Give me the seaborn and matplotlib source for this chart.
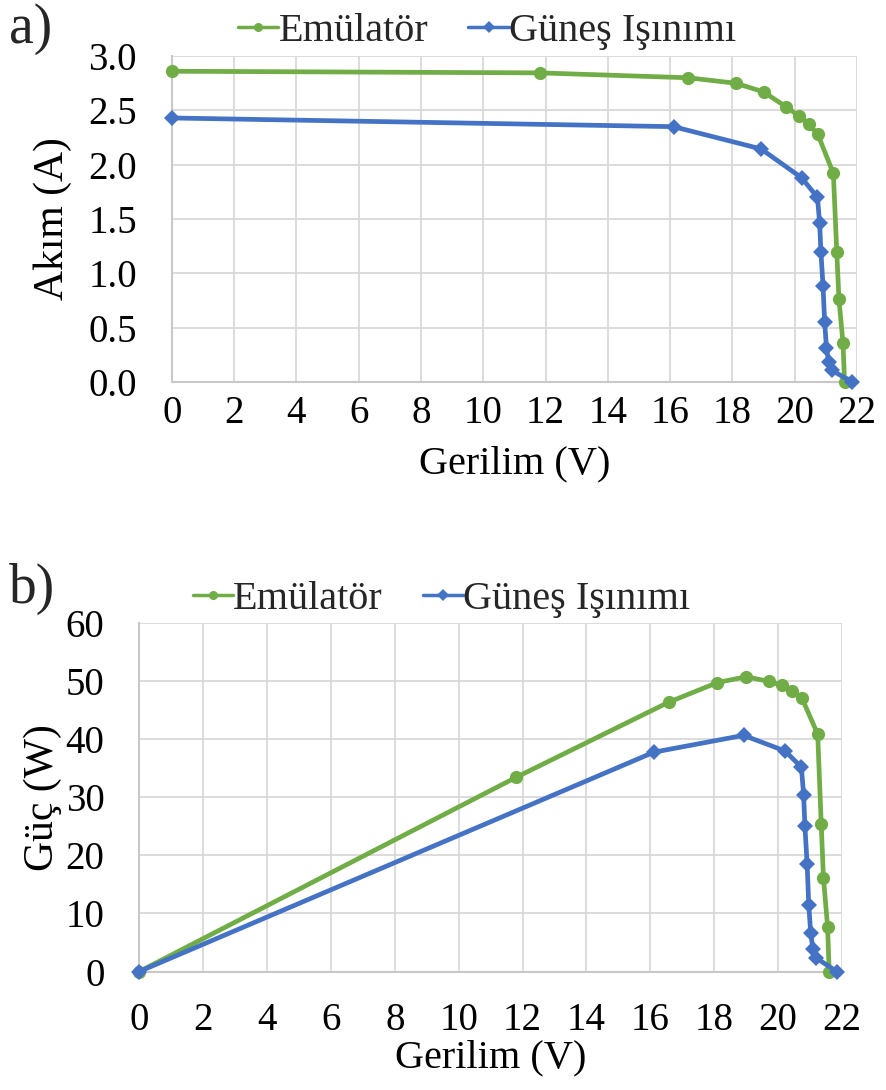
import matplotlib
matplotlib.use("Agg")
import matplotlib.pyplot as plt
import seaborn as sns
import pandas as pd

# ---- data ----
series_names = ["Emülatör", "Güneş Işınımı"]

emu_v = [0.0, 11.81, 16.57, 18.10, 19.00, 19.71, 20.13, 20.45, 20.74, 21.24, 21.35, 21.42, 21.55, 21.60]
emu_i = [2.86, 2.845, 2.80, 2.75, 2.67, 2.535, 2.45, 2.37, 2.28, 1.92, 1.197, 0.76, 0.356, 0.0]
emu_p = [0.0, 33.5, 46.4, 49.8, 50.8, 50.0, 49.3, 48.4, 47.2, 40.9, 25.5, 16.2, 7.7, 0.0]

sun_v = [0.0, 16.11, 18.92, 20.22, 20.73, 20.80, 20.84, 20.91, 20.96, 21.02, 21.09, 21.20, 21.84]
sun_i = [2.43, 2.35, 2.145, 1.88, 1.70, 1.46, 1.20, 0.88, 0.55, 0.316, 0.187, 0.107, 0.0]
sun_p = [0.0, 37.8, 40.7, 38.0, 35.2, 30.4, 25.0, 18.5, 11.5, 6.7, 3.9, 2.3, 0.0]

x_ticks = list(range(0, 23, 2))
i_ticks = [0.0, 0.5, 1.0, 1.5, 2.0, 2.5, 3.0]
p_ticks = [0, 10, 20, 30, 40, 50, 60]

GREEN = "#70AD47"
BLUE = "#4472C4"
GRID = "#D9D9D9"

sns.set_theme(style="white")
plt.rcParams["font.family"] = ["Liberation Serif", "DejaVu Serif"]

fig = plt.figure(figsize=(8.86, 10.9), dpi=100)
ax1 = fig.add_axes([0.1938, 0.6495, 0.7735, 0.2991])
ax2 = fig.add_axes([0.1572, 0.1087, 0.7931, 0.3194])

df_emu = pd.DataFrame({"V": emu_v, "I": emu_i, "P": emu_p})
df_sun = pd.DataFrame({"V": sun_v, "I": sun_i, "P": sun_p})


def draw(ax, ycol, yticks, ylim, ylabel, fmt, ypad, xpad, xlabpad, ylabpad):
    sns.lineplot(data=df_emu, x="V", y=ycol, ax=ax, color=GREEN, marker="o",
                 markersize=9.5, markeredgewidth=0, linewidth=3.4, sort=False,
                 label=series_names[0], clip_on=False, zorder=3)
    sns.lineplot(data=df_sun, x="V", y=ycol, ax=ax, color=BLUE, marker="D",
                 markersize=8, markeredgewidth=0, linewidth=3.4, sort=False,
                 label=series_names[1], clip_on=False, zorder=4)
    ax.set_xlim(0, 22)
    ax.set_ylim(*ylim)
    ax.set_xticks(x_ticks)
    ax.set_yticks(yticks)
    ax.set_yticklabels([fmt.format(t) for t in yticks])
    ax.grid(True, color=GRID, linewidth=1.3)
    ax.set_axisbelow(True)
    for s in ["top", "right"]:
        ax.spines[s].set_visible(False)
    for s in ["left", "bottom"]:
        ax.spines[s].set_color("#C8C8C8")
        ax.spines[s].set_linewidth(1.5)
    ax.tick_params(axis="both", length=0, labelsize=28, colors="black")
    ax.tick_params(axis="y", pad=ypad)
    ax.tick_params(axis="x", pad=xpad)
    ax.set_xlabel("Gerilim (V)", fontsize=29, labelpad=xlabpad, color="black")
    ax.set_ylabel(ylabel, fontsize=30, labelpad=ylabpad, color="black")
    ax.set_facecolor("white")


draw(ax1, "I", i_ticks, (0, 3.0), "Akım (A)", "{:.1f}", 25, 9, 10, 12)
draw(ax2, "P", p_ticks, (0, 60), "Güç (W)", "{:.0f}", 25, 22, 0, 3)

leg1 = ax1.legend(loc="lower center", bbox_to_anchor=(0.46, 0.97), ncol=2,
                  frameon=False, fontsize=29, handlelength=1.0,
                  handletextpad=0.0, columnspacing=1.0, borderaxespad=0)
leg2 = ax2.legend(loc="lower center", bbox_to_anchor=(0.43, 0.97), ncol=2,
                  frameon=False, fontsize=29, handlelength=1.0,
                  handletextpad=0.0, columnspacing=1.0, borderaxespad=0)
for leg in (leg1, leg2):
    for h in leg.legend_handles:
        h.set_markersize(6.5)
        h.set_linewidth(2.5)

fig.text(0.010, 0.997, "a)", fontsize=40, ha="left", va="top")
fig.text(0.010, 0.484, "b)", fontsize=40, ha="left", va="top")

fig.savefig("out.png", dpi=100, facecolor="white")
